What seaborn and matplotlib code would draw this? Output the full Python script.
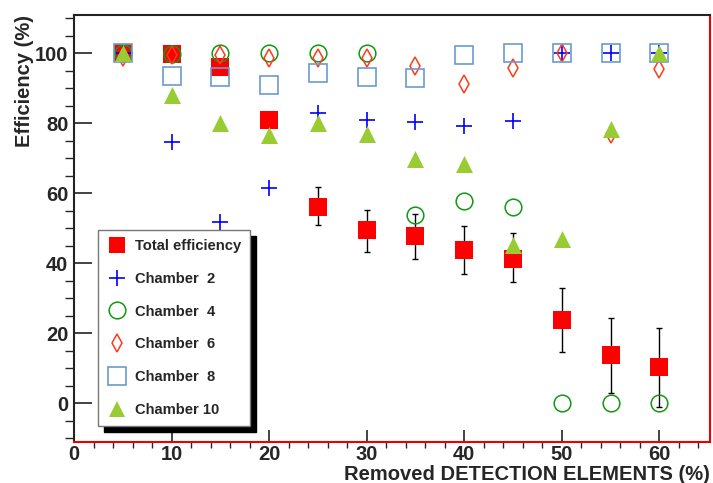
import numpy as np
import pandas as pd
import matplotlib
matplotlib.use("Agg")
import matplotlib.pyplot as plt
import matplotlib.lines as mlines
import seaborn as sns
from matplotlib.patches import Rectangle
from matplotlib.ticker import MultipleLocator

# removed detection elements (%)
removed = [5, 10, 15, 20, 25, 30, 35, 40, 45, 50, 55, 60]

total_eff = [100, 99.7, 96, 81, 56, 49.4, 47.7, 43.9, 41.3, 23.7, 13.7, 10.2]
total_err_up = [0, 0, 0, 0, 5.7, 5.9, 6.3, 6.7, 7.2, 9.1, 10.5, 11.3]
total_err_dn = [0, 0, 0, 0, 5.1, 6.2, 6.4, 6.9, 6.8, 9.2, 10.7, 11.2]

chamber2 = [100, 74.7, 51.8, 61.5, 82.8, 80.9, 80.2, 79.2, 80.6, 100, 100, 100]
chamber4 = [100, 99.7, 100, 100, 100, 100, 53.9, 57.8, 56.1, 0, 0, 0]
chamber6 = [99, 99.4, 99.4, 98.7, 98.5, 98.5, 96.3, 91.3, 95.8, 100, 77, 95.6]
chamber8 = [100, 93.5, 93.2, 91, 94.2, 93.2, 93, 99.4, 100, 100, 100, 100]
chamber10 = [100, 88, 80.1, 76.6, 80, 77, 69.9, 68.2, 45.1, 47, 78.2, 100]

sns.set_style("ticks")
plt.rcParams['font.family'] = ['Liberation Sans', 'DejaVu Sans']
plt.rcParams['font.weight'] = 'bold'

fig = plt.figure(figsize=(7.13, 4.83), dpi=100)
ax = fig.add_axes([0.1038, 0.0849, 0.892, 0.884])

df = pd.DataFrame({"x": removed, "total": total_eff, "c10": chamber10})

# total efficiency with error bars
ax.errorbar(removed, total_eff, yerr=[total_err_dn, total_err_up], fmt='none',
            ecolor='black', elinewidth=1, capsize=2.5, capthick=1, zorder=2)
sns.scatterplot(data=df, x="x", y="total", marker='s', s=150, color='#ff0000',
                linewidth=0, ax=ax, zorder=3, legend=False)

h2, = ax.plot(removed, chamber2, ls='none', marker='+', ms=11, mew=1.2,
              color='#0000ff', zorder=4)
h4, = ax.plot(removed, chamber4, ls='none', marker='o', ms=12, mew=1.1,
              mfc='none', mec='#129912', zorder=4)
h6, = ax.plot(removed, chamber6, ls='none', marker='d', ms=8.8, mew=1.1,
              mfc='none', mec='#ff3a1a', zorder=4)
h8, = ax.plot(removed, chamber8, ls='none', marker='s', ms=12.5, mew=1.2,
              mfc='none', mec='#6b9bd1', zorder=4)
sns.scatterplot(data=df, x="x", y="c10", marker='^', s=150, color='#99cc33',
                linewidth=0, ax=ax, zorder=5, legend=False)

ax.set_xlim(0, 65.2)
ax.set_ylim(-11.1, 110.9)
ax.xaxis.set_major_locator(MultipleLocator(10))
ax.xaxis.set_minor_locator(MultipleLocator(2))
ax.yaxis.set_minor_locator(MultipleLocator(5))
ax.set_yticks([0, 20, 40, 60, 80, 100])
ax.tick_params(axis='both', direction='in', labelsize=14.5, width=1.2, color='#222222')
ax.tick_params(axis='y', which='major', length=13, pad=4)
ax.tick_params(axis='y', which='minor', length=6.5, width=1)
ax.tick_params(axis='x', which='major', length=9, pad=2.5)
ax.tick_params(axis='x', which='minor', length=4.5, width=1)
for lab in ax.get_xticklabels() + ax.get_yticklabels():
    lab.set_fontweight('bold')

for side in ['left', 'top']:
    ax.spines[side].set_color('#222222')
    ax.spines[side].set_linewidth(1.5)
for side in ['right', 'bottom']:
    ax.spines[side].set_color('#ee0000')
    ax.spines[side].set_linewidth(1.5)

ax.set_xlabel("Removed DETECTION ELEMENTS (%)", fontsize=14.5, fontweight='bold',
              loc='right', labelpad=0.5)
ax.set_ylabel("Efficiency (%)", fontsize=14.5, fontweight='bold', loc='top', labelpad=1)

handles = [
    mlines.Line2D([], [], ls='none', marker='s', ms=12, color='#ff0000', mew=0),
    h2, h4, h6, h8,
    mlines.Line2D([], [], ls='none', marker='^', ms=12, color='#99cc33', mew=0),
]
labels = ["Total efficiency", "Chamber  2", "Chamber  4", "Chamber  6",
          "Chamber  8", "Chamber 10"]
leg = ax.legend(handles, labels, loc='lower left', bbox_to_anchor=(0.0377, 0.0375),
                prop={'size': 10.6, 'weight': 'bold'}, labelspacing=1.28,
                handlelength=1.34, handletextpad=0.6, borderpad=0.6,
                borderaxespad=0, fancybox=False, framealpha=1, frameon=True)
leg.get_frame().set_edgecolor('#777777')
leg.get_frame().set_linewidth(1)
leg.set_zorder(10)

# black drop shadow behind the legend box
fig.canvas.draw()
bb = leg.get_frame().get_window_extent().transformed(ax.transAxes.inverted())
dx = 6 / ax.bbox.width
dy = 6 / ax.bbox.height
ax.add_patch(Rectangle((bb.x0 + dx, bb.y0 - dy), bb.width, bb.height,
                       transform=ax.transAxes, color='black', zorder=9, clip_on=False))

fig.savefig("out.png", dpi=100)
